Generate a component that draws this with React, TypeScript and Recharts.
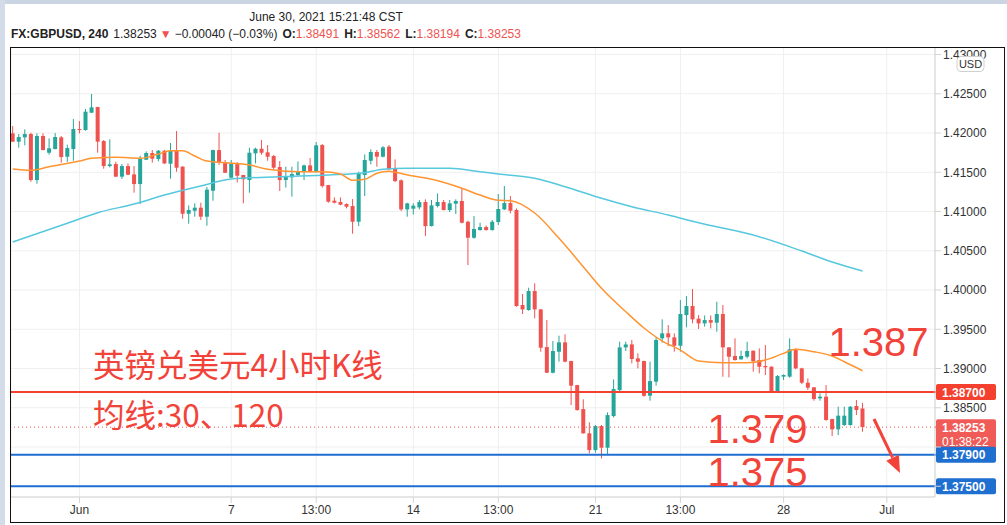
import React from "react";
import {
  ComposedChart,
  Bar,
  Line,
  XAxis,
  YAxis,
  CartesianGrid,
  ReferenceLine,
} from "recharts";

// GBPUSD 4h candles, 1 Jun - 30 Jun 2021
const opens = [
  1.41996, 1.4189, 1.41945, 1.41987, 1.41401, 1.41962, 1.41749, 1.41796, 1.41945, 1.41698,
  1.41796, 1.42051, 1.42038, 1.42259, 1.42331, 1.41898, 1.41579, 1.41605, 1.41444, 1.41579,
  1.41473, 1.4135, 1.4166, 1.41745, 1.41669, 1.41775, 1.41609, 1.41783, 1.41571, 1.40972,
  1.4101, 1.41049, 1.40934, 1.41265, 1.41783, 1.4163, 1.41431, 1.41605, 1.41465, 1.41401,
  1.41741, 1.418, 1.41754, 1.41707, 1.41567, 1.41401, 1.41435, 1.41465, 1.41507, 1.41588,
  1.41507, 1.41847, 1.41337, 1.41138, 1.41121, 1.41095, 1.4107, 1.4087, 1.41465, 1.41647,
  1.41758, 1.41698, 1.41826, 1.4155, 1.41397, 1.41027, 1.41036, 1.41053, 1.41121, 1.40815,
  1.4107, 1.41121, 1.41019, 1.411, 1.41134, 1.4087, 1.40666, 1.40764, 1.40802, 1.40764,
  1.40866, 1.41027, 1.41108, 1.41019, 1.39809, 1.39745, 1.39987, 1.39753, 1.39273, 1.38946,
  1.39214, 1.39333, 1.39095, 1.38789, 1.38483, 1.38174, 1.37961, 1.38267, 1.37991, 1.38394,
  1.38725, 1.39269, 1.39307, 1.39129, 1.39095, 1.38653, 1.38832, 1.39384, 1.39448, 1.39397,
  1.3929, 1.39681, 1.39796, 1.39635, 1.39575, 1.39617, 1.39584, 1.39694, 1.39269, 1.39159,
  1.39117, 1.3915, 1.39227, 1.39108, 1.39032, 1.39023, 1.38704, 1.38896, 1.38896, 1.39244,
  1.39002, 1.38819, 1.3876, 1.3862, 1.38641, 1.38356, 1.38225, 1.3828, 1.3828, 1.38522,
  1.38491,
];
const highs = [
  1.42089, 1.41987, 1.42047, 1.42004, 1.41996, 1.41996, 1.41932, 1.42, 1.41962, 1.41851,
  1.42178, 1.42153, 1.42306, 1.42497, 1.42335, 1.41911, 1.41919, 1.41635, 1.41605, 1.41613,
  1.41579, 1.41711, 1.41766, 1.41783, 1.41783, 1.41783, 1.41873, 1.42025, 1.41579, 1.41078,
  1.41104, 1.41112, 1.41312, 1.41788, 1.42004, 1.41656, 1.41656, 1.4163, 1.41468, 1.41813,
  1.41813, 1.41911, 1.41847, 1.4172, 1.41643, 1.41571, 1.41571, 1.41639, 1.41597, 1.41681,
  1.41885, 1.4186, 1.4134, 1.4118, 1.4118, 1.41104, 1.41159, 1.41507, 1.41728, 1.41792,
  1.41783, 1.41834, 1.41847, 1.41664, 1.4141, 1.41112, 1.41104, 1.41147, 1.41155, 1.41147,
  1.41231, 1.41147, 1.41147, 1.41155, 1.41295, 1.40883, 1.40942, 1.40857, 1.40823, 1.40891,
  1.41223, 1.41325, 1.41197, 1.4104, 1.39949, 1.40029, 1.40085, 1.39757, 1.39617, 1.3935,
  1.39418, 1.39435, 1.391, 1.38793, 1.38607, 1.38314, 1.3828, 1.3828, 1.38441, 1.38861,
  1.39341, 1.39341, 1.39363, 1.39193, 1.391, 1.39087, 1.39397, 1.39626, 1.39554, 1.39448,
  1.39872, 1.39923, 1.40012, 1.39681, 1.39677, 1.39677, 1.39851, 1.39809, 1.39273, 1.39384,
  1.39227, 1.39341, 1.3923, 1.39257, 1.39299, 1.39027, 1.38917, 1.38925, 1.39384, 1.39257,
  1.3901, 1.38874, 1.38764, 1.38683, 1.38789, 1.3836, 1.38513, 1.38513, 1.38522, 1.38598,
  1.38562,
];
const lows = [
  1.41885, 1.41813, 1.41843, 1.4138, 1.41354, 1.4178, 1.41724, 1.41792, 1.41622, 1.4163,
  1.41647, 1.41996, 1.4203, 1.42255, 1.41749, 1.41545, 1.41562, 1.4144, 1.41414, 1.41465,
  1.4124, 1.41095, 1.41656, 1.41622, 1.41639, 1.41605, 1.41418, 1.41507, 1.40908, 1.40845,
  1.40934, 1.40892, 1.40819, 1.41138, 1.41592, 1.4149, 1.41427, 1.41371, 1.41104, 1.4124,
  1.41613, 1.41724, 1.41647, 1.41537, 1.41261, 1.41304, 1.41189, 1.41452, 1.41401, 1.41499,
  1.41495, 1.41304, 1.41112, 1.41104, 1.41079, 1.4104, 1.40717, 1.40815, 1.41197, 1.41601,
  1.41571, 1.4169, 1.41533, 1.41375, 1.41006, 1.40934, 1.40964, 1.41027, 1.40688, 1.4081,
  1.41053, 1.41015, 1.40993, 1.40968, 1.40849, 1.40318, 1.40654, 1.40756, 1.40756, 1.40756,
  1.40828, 1.41019, 1.40976, 1.39787, 1.39694, 1.39736, 1.39639, 1.39214, 1.38942, 1.38938,
  1.39087, 1.39078, 1.38534, 1.38462, 1.3817, 1.37919, 1.37927, 1.37855, 1.3791, 1.38377,
  1.38704, 1.39223, 1.39065, 1.39002, 1.3864, 1.3859, 1.38781, 1.39329, 1.39286, 1.39214,
  1.39214, 1.39524, 1.39575, 1.39503, 1.39533, 1.39511, 1.39469, 1.38895, 1.38887, 1.391,
  1.39112, 1.39129, 1.38959, 1.38938, 1.38917, 1.38696, 1.38696, 1.38853, 1.38883, 1.38989,
  1.38802, 1.38726, 1.3859, 1.3859, 1.38335, 1.3814, 1.38152, 1.38267, 1.38271, 1.38407,
  1.38194,
];
const closes = [
  1.4189, 1.41949, 1.41987, 1.41401, 1.41962, 1.41783, 1.41805, 1.41949, 1.41694, 1.41809,
  1.42051, 1.42042, 1.42272, 1.42327, 1.4189, 1.41579, 1.41601, 1.41444, 1.41579, 1.41469,
  1.4135, 1.41669, 1.41745, 1.41673, 1.41775, 1.41613, 1.41775, 1.41558, 1.40972, 1.41019,
  1.41049, 1.40934, 1.41278, 1.41783, 1.4163, 1.41494, 1.41605, 1.41456, 1.4141, 1.41749,
  1.418, 1.41749, 1.41698, 1.41558, 1.41401, 1.41444, 1.41478, 1.41507, 1.41588, 1.41507,
  1.41843, 1.41325, 1.41125, 1.41112, 1.41087, 1.41061, 1.4087, 1.41486, 1.41656, 1.41758,
  1.41698, 1.41817, 1.41537, 1.41388, 1.41027, 1.41104, 1.41074, 1.41121, 1.40815, 1.41078,
  1.41121, 1.41019, 1.41104, 1.41134, 1.40857, 1.40666, 1.40777, 1.40802, 1.40764, 1.4087,
  1.41032, 1.41108, 1.4101, 1.39796, 1.39753, 1.39987, 1.39753, 1.39265, 1.38946, 1.39223,
  1.39333, 1.39087, 1.38781, 1.38471, 1.38174, 1.37961, 1.38267, 1.37991, 1.38407, 1.38738,
  1.39269, 1.39307, 1.39121, 1.39087, 1.38653, 1.3884, 1.39363, 1.39448, 1.39397, 1.3929,
  1.39694, 1.39796, 1.39626, 1.39575, 1.39617, 1.39584, 1.39694, 1.39269, 1.3915, 1.39108,
  1.39159, 1.39223, 1.39095, 1.39023, 1.39015, 1.38704, 1.38904, 1.38917, 1.39244, 1.39002,
  1.38819, 1.38755, 1.38611, 1.38641, 1.38344, 1.38225, 1.38399, 1.38399, 1.38513, 1.38471,
  1.38253,
];

// moving averages, sampled at some candles
const ma30At = [0, 3, 6, 11, 13, 17, 21, 24, 26, 28, 30, 32, 35, 39, 42, 47, 51, 54, 56, 58, 60, 62, 63, 66, 69, 74, 77, 80, 82, 86, 90, 94, 97, 101, 104, 107, 110, 113, 117, 121, 124, 127, 129, 132, 135, 137, 140];
const ma30 = [
  1.41541, 1.41525, 1.41571, 1.41643, 1.41678, 1.4169, 1.41678, 1.41732, 1.41775, 1.41775,
  1.41707, 1.41643, 1.41622, 1.41592, 1.41538, 1.41507, 1.41507, 1.41478, 1.41397, 1.4141,
  1.41487, 1.41512, 1.41499, 1.41452, 1.4141, 1.41296, 1.4121, 1.41143, 1.41138, 1.40981,
  1.40658, 1.40297, 1.40021, 1.39723, 1.39516, 1.3935, 1.39235, 1.39095, 1.39074, 1.39074,
  1.39108, 1.39193, 1.39244, 1.39214, 1.39159, 1.39086, 1.38972,
];
const ma120At = [0, 9, 14, 20, 25, 31, 36, 44, 52, 58, 61, 65, 72, 77, 80, 86, 91, 97, 102, 108, 113, 122, 130, 135, 140];
const ma120 = [
  1.40611, 1.4085, 1.40985, 1.41095, 1.4121, 1.41325, 1.41414, 1.41443, 1.41465, 1.41494,
  1.41538, 1.4155, 1.4155, 1.41507, 1.41478, 1.41423, 1.41316, 1.41168, 1.41061, 1.40955,
  1.40857, 1.40701, 1.40497, 1.40357, 1.40242,
];

const timeTicks = [11, 36, 50, 66, 80, 96, 110, 127, 144];
const timeLabels = ["Jun", "7", "13:00", "14", "13:00", "21", "13:00", "28", "Jul"];
const priceTicks = [1.375, 1.38, 1.385, 1.39, 1.395, 1.4, 1.405, 1.41, 1.415, 1.42, 1.425, 1.43];
// these two axis labels sit under the price tags on the original
const hiddenPriceLabels = [1.375, 1.38];

const UP = "#26a69a";
const DOWN = "#ef5350";
const ANNOT = "#f2433a";
const BLUE = "#1f6fd1";
const FONT = '"Liberation Sans", Arial, sans-serif';

const data = opens.map((o, i) => {
  const a = ma30At.indexOf(i);
  const b = ma120At.indexOf(i);
  return {
    i,
    o,
    h: highs[i],
    l: lows[i],
    c: closes[i],
    ma30: a >= 0 ? ma30[a] : null,
    ma120: b >= 0 ? ma120[b] : null,
  };
});

const Candle = (props: any) => {
  const { x, y, width, height, payload } = props;
  if (!payload || height == null) return null;
  const { o, h, l, c } = payload;
  const k = height / (h - l || 1e-9);
  const yo = y + (h - o) * k;
  const yc = y + (h - c) * k;
  const color = c >= o ? UP : DOWN;
  const cx = x + width / 2;
  const top = Math.min(yo, yc);
  const bh = Math.max(1, Math.abs(yo - yc));
  return (
    <g>
      <line x1={cx} x2={cx} y1={y} y2={y + height} stroke={color} strokeWidth={1} />
      <rect x={x} y={top} width={width} height={bh} fill={color} />
    </g>
  );
};

// price tag drawn on the right axis next to a horizontal level
const priceTag = (text: string, color: string, sub?: string) => (props: any) => {
  const vb = props.viewBox || {};
  const x = (vb.x || 0) + (vb.width || 0) + 1;
  const y = vb.y || 0;
  const h = sub ? 31 : 16;
  return (
    <g>
      <line x1={x - 1} x2={x + 4} y1={y} y2={y} stroke={color} strokeWidth={2} />
      <rect x={x} y={y - 8} width={60} height={h} rx={2} fill={color} />
      <text x={x + 6} y={y + 4.5} fill="#fff" fontSize={12} fontWeight="bold" fontFamily={FONT}>
        {text}
      </text>
      {sub && (
        <text x={x + 6} y={y + 19} fill="#fff" fontSize={12} fontFamily={FONT}>
          {sub}
        </text>
      )}
    </g>
  );
};

export default function App() {
  return (
    <div
      style={{
        position: "relative",
        width: 1007,
        height: 525,
        background: "#fff",
        overflow: "hidden",
        fontFamily: FONT,
      }}
    >
      <style>{`body{margin:0}`}</style>
      <div style={{ position: "absolute", left: 0, top: 0, width: 1007, height: 4, background: "#cbd4e3" }} />
      <div style={{ position: "absolute", left: 0, top: 0, width: 5, height: 525, background: "#d3dbe8" }} />

      <svg width={1007} height={47} style={{ position: "absolute", left: 0, top: 0 }}>
        <text x={326} y={21} textAnchor="middle" fontSize={12} fill="#222" fontFamily={FONT}>
          June 30, 2021 15:21:48 CST
        </text>
        <text x={11} y={37.5} fontSize={12} fill="#222" fontFamily={FONT}>
          <tspan fontWeight="bold">FX:GBPUSD, 240</tspan>
          <tspan dx={5}>1.38253</tspan>
          <tspan dx={3} fill={DOWN}>▼</tspan>
          <tspan dx={3}>−0.00040 (−0.03%)</tspan>
          <tspan dx={5} fontWeight="bold">O:</tspan>
          <tspan fill={DOWN}>1.38491</tspan>
          <tspan dx={5} fontWeight="bold">H:</tspan>
          <tspan fill={DOWN}>1.38562</tspan>
          <tspan dx={5} fontWeight="bold">L:</tspan>
          <tspan fill={DOWN}>1.38194</tspan>
          <tspan dx={5} fontWeight="bold">C:</tspan>
          <tspan fill={DOWN}>1.38253</tspan>
        </text>
      </svg>

      <div style={{ position: "absolute", left: 11, top: 47 }}>
        <ComposedChart
          width={993}
          height={475}
          data={data}
          margin={{ top: 0, right: 0, bottom: 0, left: 0 }}
        >
          <CartesianGrid stroke="#efefef" />
          <XAxis
            dataKey="i"
            type="number"
            domain={[-0.28, 151.94]}
            allowDataOverflow
            ticks={timeTicks}
            interval={0}
            height={25}
            tickFormatter={(v) => timeLabels[timeTicks.indexOf(v)] ?? ""}
            stroke="#d4d4d4"
            tick={{ fill: "#333", fontSize: 12, fontFamily: FONT }}
          />
          <YAxis
            orientation="right"
            type="number"
            domain={[1.37363, 1.43096]}
            allowDataOverflow
            ticks={priceTicks}
            interval={0}
            width={69}
            tickFormatter={(v) => (hiddenPriceLabels.includes(v) ? "" : v.toFixed(5))}
            stroke="#d4d4d4"
            tick={{ fill: "#333", fontSize: 12, fontFamily: FONT }}
          />
          <Bar
            dataKey={(d: any) => [d.l, d.h]}
            barSize={4}
            shape={Candle}
            isAnimationActive={false}
          />
          <Line
            dataKey="ma120"
            type="monotone"
            stroke="#56c8de"
            strokeWidth={1.5}
            dot={false}
            connectNulls
            isAnimationActive={false}
          />
          <Line
            dataKey="ma30"
            type="monotone"
            stroke="#ff9430"
            strokeWidth={1.5}
            dot={false}
            connectNulls
            isAnimationActive={false}
          />
          <ReferenceLine y={1.387} stroke="#f4402f" strokeWidth={2} label={priceTag("1.38700", "#f4402f")} />
          <ReferenceLine
            y={1.38253}
            stroke={DOWN}
            strokeDasharray="1 3"
            label={priceTag("1.38253", "#f05b57", "01:38:22")}
          />
          <ReferenceLine y={1.379} stroke={BLUE} strokeWidth={2} label={priceTag("1.37900", BLUE)} />
          <ReferenceLine y={1.375} stroke={BLUE} strokeWidth={2} label={priceTag("1.37500", BLUE)} />
        </ComposedChart>
      </div>

      <svg width={1007} height={525} style={{ position: "absolute", left: 0, top: 0, pointerEvents: "none" }}>
        <rect x={957} y={56.5} width={27} height={15} rx={4} fill="#fff" stroke="#cfcfcf" />
        <text x={970.5} y={68} textAnchor="middle" fontSize={11} fill="#333" fontFamily={FONT}>
          USD
        </text>
        <text x={93} y={377} fontSize={31.5} fill={ANNOT} fontFamily='"Noto Sans CJK SC", sans-serif'>
          英镑兑美元4小时K线
        </text>
        <text x={93} y={427} fontSize={31.5} fill={ANNOT} fontFamily='"Noto Sans CJK SC", sans-serif'>
          均线:30、120
        </text>
        <text x={828.5} y={356} fontSize={40} fill={ANNOT} fontFamily={FONT}>
          1.387
        </text>
        <text x={707.5} y={443} fontSize={40} fill={ANNOT} fontFamily={FONT}>
          1.379
        </text>
        <text x={707.5} y={486} fontSize={40} fill={ANNOT} fontFamily={FONT}>
          1.375
        </text>
        <line x1={874} y1={419} x2={892.6} y2={457.7} stroke={ANNOT} strokeWidth={3} />
        <polygon points="900,473 898.9,454.7 886.3,460.7" fill={ANNOT} />
      </svg>

      <div
        style={{
          position: "absolute",
          left: 10,
          top: 47,
          width: 995,
          height: 476,
          border: "1.5px solid #111",
          boxSizing: "border-box",
          pointerEvents: "none",
        }}
      />
    </div>
  );
}
